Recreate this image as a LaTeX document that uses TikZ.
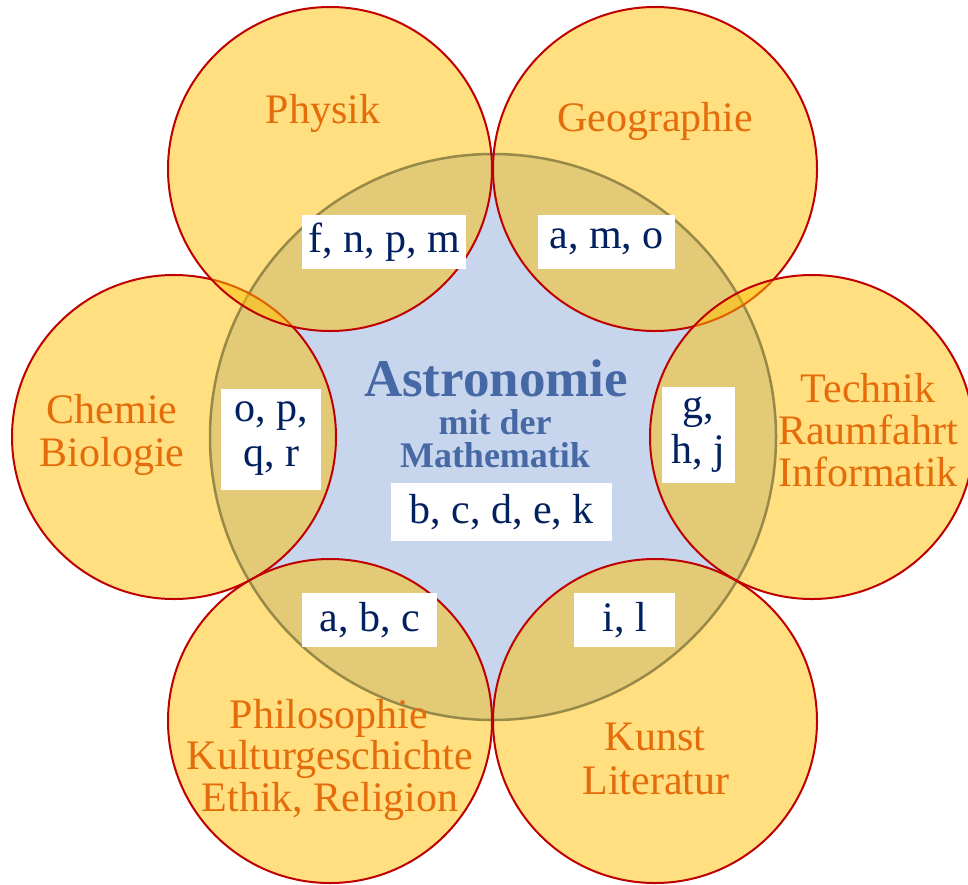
\documentclass[tikz,border=0pt]{standalone}
\usepackage{fontspec}
\setmainfont{Liberation Serif}
\definecolor{gold}{RGB}{255,192,0}
\definecolor{dred}{RGB}{192,0,0}
\definecolor{cblue}{RGB}{199,213,237}
\definecolor{cborder}{RGB}{47,82,143}
\definecolor{otext}{RGB}{228,108,10}
\definecolor{navy}{RGB}{0,32,96}
\definecolor{astro}{RGB}{70,105,165}
\begin{document}
\begin{tikzpicture}[x=1pt,y=-1pt,
  subj/.style={circle, minimum size=324pt, inner sep=0pt, fill=gold, fill opacity=0.5, draw=dred, draw opacity=1, line width=2pt},
  core/.style={circle, minimum size=566pt, inner sep=0pt, fill=cblue, draw=cborder, line width=2.5pt},
  subjtext/.style={text=otext, font=\fontsize{42}{43}\selectfont, anchor=base, inner sep=0pt},
  lbl/.style={fill=white, text=navy, font=\fontsize{42}{45}\selectfont, align=center, inner sep=0pt},
  astrotext/.style={text=astro, anchor=base, inner sep=0pt},
]
\clip (0,0) rectangle (968,884);
\fill[white] (0,0) rectangle (968,884);

\node[core] (core) at (493,437) {};

\node[subj] (chem) at (174,437) {};
\node[subj] (phys) at (330,169) {};
\node[subj] (geo) at (655,169) {};
\node[subj] (tech) at (812,437) {};
\node[subj] (kunst) at (655,721) {};
\node[subj] (philo) at (330,721) {};

\node[subjtext] (tPhys) at (323,123) {Physik};
\node[subjtext] (tGeo) at (655,131) {Geographie};
\node[subjtext] (tChem1) at (112,423) {Chemie};
\node[subjtext] (tChem2) at (112,466) {Biologie};
\node[subjtext] (tTech1) at (868,402) {Technik};
\node[subjtext] (tTech2) at (868,444) {Raumfahrt};
\node[subjtext] (tTech3) at (868,486) {Informatik};
\node[subjtext] (tPhilo1) at (329,728) {Philosophie};
\node[subjtext] (tPhilo2) at (330,769) {Kulturgeschichte};
\node[subjtext] (tPhilo3) at (330,811) {Ethik, Religion};
\node[subjtext] (tKunst1) at (655,750) {Kunst};
\node[subjtext] (tKunst2) at (656,794) {Literatur};

\node[astrotext, font=\bfseries\fontsize{53}{53}\selectfont] (tAstro) at (496,396) {Astronomie};
\node[astrotext, font=\bfseries\fontsize{36}{36}\selectfont] (tMit) at (495,434) {mit der};
\node[astrotext, font=\bfseries\fontsize{36}{36}\selectfont] (tMath) at (495,467) {Mathematik};

\node[lbl, minimum width=164pt, minimum height=54pt] (l1) at (384,242) {f, n, p, m};
\node[lbl, minimum width=137pt, minimum height=54pt] (l2) at (606.5,242) {a, m, o};
\node[lbl, minimum width=100pt, minimum height=101pt] (l3) at (271,439) {o, p,\\q, r};
\node[lbl, minimum width=73pt, minimum height=96pt] (l4) at (698.5,435) {g,\\h, j};
\node[lbl, minimum width=221pt, minimum height=58pt] (l5) at (501.5,512) {b, c, d, e, k};
\node[lbl, minimum width=135pt, minimum height=54pt] (l6) at (369.5,620) {a, b, c};
\node[lbl, minimum width=101pt, minimum height=54pt] (l7) at (624.5,620) {i, l};
\end{tikzpicture}
\end{document}
